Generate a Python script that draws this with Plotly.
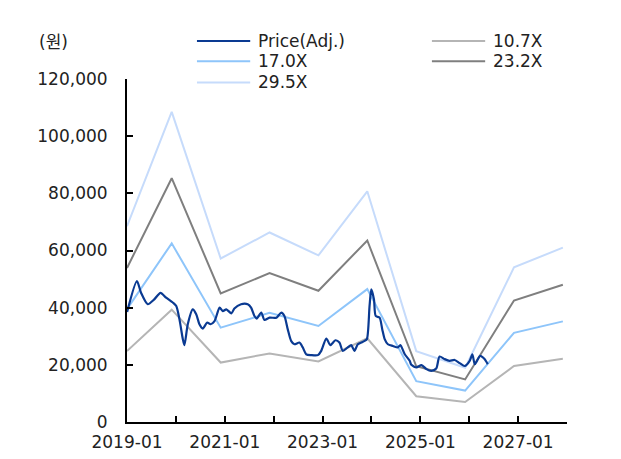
import plotly.graph_objects as go

# Adjusted share price (원)
price_dates = [
    "2019-01-02", "2019-03-16", "2019-04-16", "2019-06-05", "2019-07-24", "2019-09-08",
    "2019-10-20", "2019-12-09", "2020-01-04", "2020-01-28", "2020-02-22", "2020-03-05",
    "2020-03-30", "2020-05-06", "2020-06-01", "2020-06-25", "2020-07-20", "2020-08-22",
    "2020-09-16", "2020-10-16", "2020-11-23", "2020-12-17", "2021-01-12", "2021-02-19",
    "2021-03-13", "2021-05-02", "2021-06-21", "2021-07-16", "2021-08-10", "2021-08-27",
    "2021-09-30", "2021-10-24", "2021-12-01", "2022-01-21", "2022-02-27", "2022-03-22",
    "2022-04-16", "2022-05-11", "2022-06-05", "2022-07-12", "2022-08-06", "2022-09-01",
    "2022-10-08", "2022-11-27", "2022-12-22", "2023-01-29", "2023-02-28", "2023-04-07",
    "2023-05-07", "2023-06-01", "2023-07-08", "2023-08-03", "2023-08-27", "2023-09-21",
    "2023-10-17", "2023-11-11", "2023-11-28", "2023-12-18", "2023-12-31", "2024-01-20",
    "2024-02-02", "2024-03-02", "2024-03-22", "2024-04-09", "2024-05-03", "2024-06-10",
    "2024-07-17", "2024-08-04", "2024-09-06", "2024-10-13", "2024-10-25", "2024-12-02",
    "2025-01-09", "2025-02-15", "2025-03-23", "2025-04-29", "2025-05-24", "2025-07-01",
    "2025-08-07", "2025-09-14", "2025-10-21", "2025-11-28", "2026-01-04", "2026-01-24",
    "2026-02-11", "2026-02-28", "2026-03-23", "2026-04-25", "2026-05-19",
]
price_values = [
    38500, 49300, 45200, 41200, 42900, 45200,
    43500, 41800, 40600, 35900, 29000, 26900,
    34200, 39400, 37700, 34200, 32700, 34800,
    34200, 35300, 40000, 38800, 39400, 38000,
    39700, 41200, 41200, 40000, 37100, 36200,
    38300, 35700, 36500, 36500, 38300, 37100,
    32400, 28400, 27200, 27800, 26100, 23700,
    23400, 23400, 24900, 29200, 26900, 28600,
    27800, 24900, 26100, 26900, 24900, 27200,
    27800, 28400, 29000, 40600, 46400, 42900,
    37100, 36500, 32400, 29000, 27200, 26600,
    26100, 26900, 23700, 21400, 20000, 19100,
    19900, 18500, 17900, 18700, 22900, 22000,
    21400, 21700, 20600, 19600, 21400, 23700,
    20200, 21400, 23100, 22000, 20200,
]

# PER band lines (원)
band_dates = [
    "2019-01-01", "2019-12-01", "2020-12-01", "2021-12-01", "2022-12-01",
    "2023-12-01", "2024-12-01", "2025-12-01", "2026-12-01", "2027-12-01",
]
band_10_7 = [24800, 39300, 20800, 24000, 21200, 29300, 9000, 7000, 19600, 22100]
band_17_0 = [39500, 62500, 33000, 38200, 33600, 46500, 14300, 11000, 31200, 35200]
band_23_2 = [53900, 85300, 45000, 52100, 45900, 63500, 19500, 14900, 42500, 48000]
band_29_5 = [68500, 108500, 57200, 66300, 58300, 80700, 24800, 19000, 54100, 61000]

y_ticks = [0, 20000, 40000, 60000, 80000, 100000, 120000]

FONT = "DejaVu Sans, Noto Sans CJK KR, sans-serif"
TEXT = "#222222"

series = [
    ("29.5X", band_29_5, "#c6dbfb"),
    ("23.2X", band_23_2, "#7f7f7f"),
    ("17.0X", band_17_0, "#8ec5fa"),
    ("10.7X", band_10_7, "#b5b5b5"),
]
PRICE_COLOR = "#0a3a92"

fig = go.Figure()
for name, vals, color in series:
    fig.add_trace(go.Scatter(
        x=band_dates, y=vals, name=name, mode="lines",
        line=dict(color=color, width=2), showlegend=False,
    ))
fig.add_trace(go.Scatter(
    x=price_dates, y=price_values, name="Price(Adj.)", mode="lines",
    line=dict(color=PRICE_COLOR, width=2.2, shape="spline", smoothing=0.7),
    showlegend=False,
))

fig.update_layout(
    width=621, height=459,
    margin=dict(l=127, r=54, t=79, b=37, autoexpand=False),
    paper_bgcolor="white", plot_bgcolor="white",
    font=dict(family=FONT, size=17, color=TEXT),
)
fig.update_xaxes(
    type="date", range=["2019-01-01", "2028-01-01"],
    tick0="2019-01-01", dtick="M24", tickformat="%Y-%m",
    ticks="inside", ticklen=6, tickwidth=1.5, tickcolor="black",
    minor=dict(dtick="M12", tick0="2019-01-01", ticks="inside", ticklen=6,
               tickwidth=1.5, tickcolor="black", showgrid=False),
    showline=True, linewidth=2, linecolor="black", automargin=False,
    showgrid=False, zeroline=False, ticklabelstandoff=4,
    tickfont=dict(family=FONT, size=17, color=TEXT),
)
fig.update_yaxes(
    range=[0, 120000], tickvals=y_ticks, tickformat=",",
    ticks="inside", ticklen=6, tickwidth=1.5, tickcolor="black",
    showline=True, linewidth=2, linecolor="black", automargin=False,
    showgrid=False, zeroline=False, ticklabelstandoff=14,
    tickfont=dict(family=FONT, size=17, color=TEXT),
)

# Legend drawn as swatch lines plus labels above the plot area
legend_items = [
    ("Price(Adj.)", PRICE_COLOR, 0.159, 1.111),
    ("10.7X", "#b5b5b5", 0.693, 1.111),
    ("17.0X", "#8ec5fa", 0.159, 1.052),
    ("23.2X", "#7f7f7f", 0.693, 1.052),
    ("29.5X", "#c6dbfb", 0.159, 0.990),
]
for label, color, x0, yy in legend_items:
    fig.add_shape(type="line", xref="paper", yref="paper",
                  x0=x0, x1=x0 + 0.121, y0=yy, y1=yy,
                  line=dict(color=color, width=2))
    fig.add_annotation(xref="paper", yref="paper", x=x0 + 0.134, y=yy,
                       text=label, showarrow=False, xanchor="left", yanchor="middle",
                       font=dict(family=FONT, size=17, color=TEXT))

fig.add_annotation(xref="paper", yref="paper", x=-0.205, y=1.108,
                   text="(원)", showarrow=False, xanchor="left", yanchor="middle",
                   font=dict(family=FONT, size=17, color=TEXT))

fig.write_html("out.html")
